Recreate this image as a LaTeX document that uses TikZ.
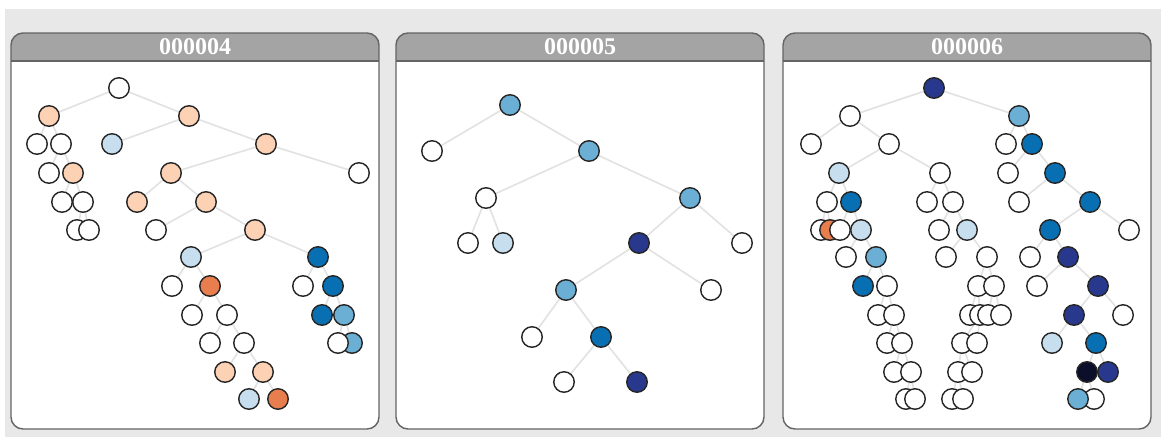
\documentclass[tikz,border=0pt]{standalone}
\usepackage{fontspec}
\setmainfont{Liberation Serif}
\usepackage{tikz}
\usetikzlibrary{backgrounds}
\definecolor{pagegrey}{RGB}{232, 232, 232}
\definecolor{headgrey}{RGB}{164, 164, 164}
\definecolor{framegrey}{RGB}{100, 100, 100}
\definecolor{linkgrey}{RGB}{226, 226, 226}
\definecolor{peach}{RGB}{252, 209, 180}
\definecolor{rust}{RGB}{232, 126, 78}
\definecolor{paleblue}{RGB}{198, 222, 238}
\definecolor{midblue}{RGB}{107, 175, 213}
\definecolor{deepblue}{RGB}{8, 112, 178}
\definecolor{navy}{RGB}{40, 56, 140}
\definecolor{ink}{RGB}{12, 15, 42}
\pgfdeclarelayer{panel}
\pgfdeclarelayer{edge}
\pgfsetlayers{panel,edge,main}

\begin{document}
\begin{tikzpicture}[x=1pt, y=-1pt,
        dot/.style={circle, draw=black!85, line width=1.4pt, minimum size=20.5pt, inner sep=0pt},
        link/.style={draw=linkgrey, line width=1.6pt},
        frame/.style={draw=framegrey, line width=1.4pt, rounded corners=12pt},
        title/.style={text=white, font=\fontsize{24}{24}\selectfont\bfseries}
    ]
        \useasboundingbox (0,0) rectangle (1161,437);

        % Panels with headers
        \begin{pgfonlayer}{panel}
            \fill[pagegrey] (5,9) rectangle (1161,437);
            \foreach \px/\ttl in {11/000004, 396/000005, 783/000006} {
                \fill[white, rounded corners=12pt] (\px,33) rectangle (\px+368,429);
                \begin{scope}
                    \clip[rounded corners=12pt] (\px,33) rectangle (\px+368,429);
                    \fill[headgrey] (\px,33) rectangle (\px+368,61);
                \end{scope}
                \draw[framegrey, line width=1.4pt] (\px,61) -- (\px+368,61);
                \draw[frame] (\px,33) rectangle (\px+368,429);
                \node[title] (title\ttl) at (\px+184,47) {\ttl};
            }
        \end{pgfonlayer}

        % Tree 000004
        \foreach \n/\x/\y/\c in {a0/119/88/white, a1/49/116/peach, a2/189/116/peach,
                a3/37/144/white, a4/61/144/white, a5/112/144/paleblue, a6/266/144/peach,
                a7/49/173/white, a8/73/173/peach, a9/171/173/peach, a10/359/173/white,
                a11/62/202/white, a12/83/202/white, a13/137/202/peach, a14/206/202/peach,
                a15/77/230/white, a16/89/230/white, a17/156/230/white, a18/255/230/peach,
                a19/191/257/paleblue, a20/318/257/deepblue,
                a21/172/286/white, a22/210/286/rust, a23/303/286/white, a24/333/286/deepblue,
                a25/192/315/white, a26/227/315/white, a27/322/315/deepblue, a28/344/315/midblue,
                a29/210/343/white, a30/244/343/white, a31/352/343/midblue, a32/338/343/white,
                a33/225/372/peach, a34/263/372/peach,
                a35/249/399/paleblue, a36/278/399/rust}
            \node[dot, fill=\c] (\n) at (\x,\y) {};

        % Tree 000005
        \foreach \n/\x/\y/\c in {b0/510/105/midblue, b1/432/151/white, b2/589/151/midblue,
                b3/486/198/white, b4/690/198/midblue,
                b5/468/243/white, b6/503/243/paleblue, b7/639/243/navy, b8/742/243/white,
                b9/566/290/midblue, b10/711/290/white,
                b11/532/337/white, b12/601/337/deepblue,
                b13/564/382/white, b14/637/382/navy}
            \node[dot, fill=\c] (\n) at (\x,\y) {};

        % Tree 000006
        \foreach \n/\x/\y/\c in {c0/934/88/navy, c1/850/116/white, c2/1019/116/midblue,
                c3/811/144/white, c4/889/144/white, c5/1006/144/white, c6/1032/144/deepblue,
                c7/839/173/paleblue, c8/940/173/white, c9/1008/173/white, c10/1055/173/deepblue,
                c11/827/202/white, c12/851/202/deepblue, c13/927/202/white, c14/953/202/white,
                c15/1019/202/white, c16/1090/202/deepblue,
                c17/821/230/white, c18/830/230/rust, c19/840/230/white, c20/861/230/paleblue,
                c21/939/230/white, c22/967/230/paleblue, c23/1050/230/deepblue, c24/1129/230/white,
                c25/846/257/white, c26/876/257/midblue, c27/946/257/white, c28/987/257/white,
                c29/1030/257/white, c30/1068/257/navy,
                c31/863/286/deepblue, c32/887/286/white, c33/978/286/white, c34/994/286/white,
                c35/1037/286/white, c36/1098/286/navy,
                c37/878/315/white, c38/894/315/white, c39/970/315/white, c40/980/315/white,
                c41/988/315/white, c42/1001/315/white, c43/1074/315/navy, c44/1123/315/white,
                c45/887/343/white, c46/902/343/white, c47/962/343/white, c48/977/343/white,
                c49/1052/343/paleblue, c50/1096/343/deepblue,
                c51/894/372/white, c52/911/372/white, c53/958/372/white, c54/972/372/white,
                c55/1087/372/ink, c56/1108/372/navy,
                c57/906/399/white, c58/915/399/white, c59/952/399/white, c60/963/399/white,
                c61/1094/399/white, c62/1078/399/midblue}
            \node[dot, fill=\c] (\n) at (\x,\y) {};

        % Links
        \begin{pgfonlayer}{edge}
            \foreach \p/\q in {a0/a1, a0/a2, a1/a3, a1/a4, a2/a5, a2/a6, a4/a7, a4/a8,
                    a6/a9, a6/a10, a8/a11, a8/a12, a9/a13, a9/a14, a12/a15, a12/a16,
                    a14/a17, a14/a18, a18/a19, a18/a20, a19/a21, a19/a22, a20/a23, a20/a24,
                    a22/a25, a22/a26, a24/a27, a24/a28, a26/a29, a26/a30, a28/a31, a28/a32,
                    a30/a33, a30/a34, a34/a35, a34/a36,
                    b0/b1, b0/b2, b2/b3, b2/b4, b3/b5, b3/b6, b4/b7, b4/b8,
                    b7/b9, b7/b10, b9/b11, b9/b12, b12/b13, b12/b14,
                    c0/c1, c0/c2, c1/c3, c1/c4, c2/c5, c2/c6, c4/c7, c4/c8,
                    c6/c9, c6/c10, c7/c11, c7/c12, c8/c13, c8/c14, c10/c15, c10/c16,
                    c11/c17, c11/c18, c12/c19, c12/c20, c14/c21, c14/c22, c16/c23, c16/c24,
                    c20/c25, c20/c26, c22/c27, c22/c28, c23/c29, c23/c30,
                    c26/c31, c26/c32, c28/c33, c28/c34, c30/c35, c30/c36,
                    c32/c37, c32/c38, c33/c39, c33/c40, c34/c41, c34/c42, c36/c43, c36/c44,
                    c38/c45, c38/c46, c40/c47, c40/c48, c43/c49, c43/c50,
                    c46/c51, c46/c52, c47/c53, c47/c54, c50/c55, c50/c56,
                    c52/c57, c52/c58, c53/c59, c53/c60, c55/c61, c55/c62}
                \draw[link] (\p) -- (\q);
        \end{pgfonlayer}
    \end{tikzpicture}
\end{document}
